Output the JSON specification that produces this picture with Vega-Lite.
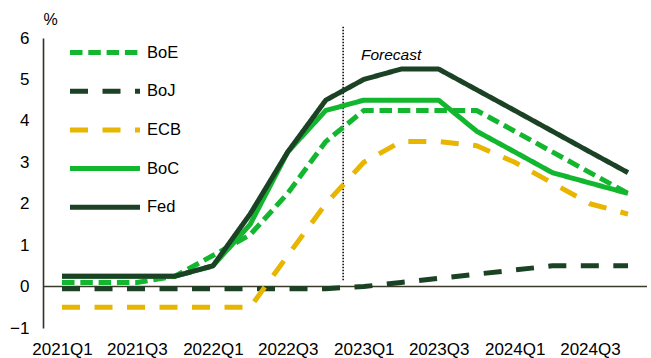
{
  "$schema": "https://vega.github.io/schema/vega-lite/v6.json",
  "width": 604,
  "height": 290,
  "autosize": {"type": "none"},
  "padding": {"left": 43, "top": 38, "right": 4, "bottom": 30},
  "background": "white",
  "config": {
    "view": {"stroke": null},
    "font": "Liberation Sans",
    "legend": {
      "orient": "none",
      "legendX": 49.5,
      "legendY": 2,
      "title": null,
      "symbolType": "M-3.5,0H3.5",
      "symbolSize": 400,
      "symbolStrokeWidth": 5,
      "labelFontSize": 16.5,
      "labelColor": "black",
      "labelOffset": 29.5,
      "rowPadding": 15.7
    }
  },
  "datasets": {
    "rates": [
      {"bank": "BoE", "quarter": "2021-01-01", "rate": 0.1},
      {"bank": "BoE", "quarter": "2021-04-01", "rate": 0.1},
      {"bank": "BoE", "quarter": "2021-07-01", "rate": 0.1},
      {"bank": "BoE", "quarter": "2021-10-01", "rate": 0.25},
      {"bank": "BoE", "quarter": "2022-01-01", "rate": 0.75},
      {"bank": "BoE", "quarter": "2022-04-01", "rate": 1.25},
      {"bank": "BoE", "quarter": "2022-07-01", "rate": 2.25},
      {"bank": "BoE", "quarter": "2022-10-01", "rate": 3.5},
      {"bank": "BoE", "quarter": "2023-01-01", "rate": 4.25},
      {"bank": "BoE", "quarter": "2023-04-01", "rate": 4.25},
      {"bank": "BoE", "quarter": "2023-07-01", "rate": 4.25},
      {"bank": "BoE", "quarter": "2023-10-01", "rate": 4.25},
      {"bank": "BoE", "quarter": "2024-01-01", "rate": 3.75},
      {"bank": "BoE", "quarter": "2024-04-01", "rate": 3.25},
      {"bank": "BoE", "quarter": "2024-07-01", "rate": 2.75},
      {"bank": "BoE", "quarter": "2024-10-01", "rate": 2.25},
      {"bank": "BoJ", "quarter": "2021-01-01", "rate": -0.05},
      {"bank": "BoJ", "quarter": "2021-04-01", "rate": -0.05},
      {"bank": "BoJ", "quarter": "2021-07-01", "rate": -0.05},
      {"bank": "BoJ", "quarter": "2021-10-01", "rate": -0.05},
      {"bank": "BoJ", "quarter": "2022-01-01", "rate": -0.05},
      {"bank": "BoJ", "quarter": "2022-04-01", "rate": -0.05},
      {"bank": "BoJ", "quarter": "2022-07-01", "rate": -0.05},
      {"bank": "BoJ", "quarter": "2022-10-01", "rate": -0.05},
      {"bank": "BoJ", "quarter": "2023-01-01", "rate": 0.0},
      {"bank": "BoJ", "quarter": "2023-04-01", "rate": 0.1},
      {"bank": "BoJ", "quarter": "2023-07-01", "rate": 0.2},
      {"bank": "BoJ", "quarter": "2023-10-01", "rate": 0.3},
      {"bank": "BoJ", "quarter": "2024-01-01", "rate": 0.4},
      {"bank": "BoJ", "quarter": "2024-04-01", "rate": 0.5},
      {"bank": "BoJ", "quarter": "2024-07-01", "rate": 0.5},
      {"bank": "BoJ", "quarter": "2024-10-01", "rate": 0.5},
      {"bank": "ECB", "quarter": "2021-01-01", "rate": -0.5},
      {"bank": "ECB", "quarter": "2021-04-01", "rate": -0.5},
      {"bank": "ECB", "quarter": "2021-07-01", "rate": -0.5},
      {"bank": "ECB", "quarter": "2021-10-01", "rate": -0.5},
      {"bank": "ECB", "quarter": "2022-01-01", "rate": -0.5},
      {"bank": "ECB", "quarter": "2022-04-01", "rate": -0.5},
      {"bank": "ECB", "quarter": "2022-07-01", "rate": 0.75},
      {"bank": "ECB", "quarter": "2022-10-01", "rate": 2.0},
      {"bank": "ECB", "quarter": "2023-01-01", "rate": 3.0},
      {"bank": "ECB", "quarter": "2023-04-01", "rate": 3.5},
      {"bank": "ECB", "quarter": "2023-07-01", "rate": 3.5},
      {"bank": "ECB", "quarter": "2023-10-01", "rate": 3.4},
      {"bank": "ECB", "quarter": "2024-01-01", "rate": 3.0},
      {"bank": "ECB", "quarter": "2024-04-01", "rate": 2.5},
      {"bank": "ECB", "quarter": "2024-07-01", "rate": 2.0},
      {"bank": "ECB", "quarter": "2024-10-01", "rate": 1.75},
      {"bank": "BoC", "quarter": "2021-01-01", "rate": 0.25},
      {"bank": "BoC", "quarter": "2021-04-01", "rate": 0.25},
      {"bank": "BoC", "quarter": "2021-07-01", "rate": 0.25},
      {"bank": "BoC", "quarter": "2021-10-01", "rate": 0.25},
      {"bank": "BoC", "quarter": "2022-01-01", "rate": 0.5},
      {"bank": "BoC", "quarter": "2022-04-01", "rate": 1.5},
      {"bank": "BoC", "quarter": "2022-07-01", "rate": 3.25},
      {"bank": "BoC", "quarter": "2022-10-01", "rate": 4.25},
      {"bank": "BoC", "quarter": "2023-01-01", "rate": 4.5},
      {"bank": "BoC", "quarter": "2023-04-01", "rate": 4.5},
      {"bank": "BoC", "quarter": "2023-07-01", "rate": 4.5},
      {"bank": "BoC", "quarter": "2023-10-01", "rate": 3.75},
      {"bank": "BoC", "quarter": "2024-01-01", "rate": 3.25},
      {"bank": "BoC", "quarter": "2024-04-01", "rate": 2.75},
      {"bank": "BoC", "quarter": "2024-07-01", "rate": 2.5},
      {"bank": "BoC", "quarter": "2024-10-01", "rate": 2.25},
      {"bank": "Fed", "quarter": "2021-01-01", "rate": 0.25},
      {"bank": "Fed", "quarter": "2021-04-01", "rate": 0.25},
      {"bank": "Fed", "quarter": "2021-07-01", "rate": 0.25},
      {"bank": "Fed", "quarter": "2021-10-01", "rate": 0.25},
      {"bank": "Fed", "quarter": "2022-01-01", "rate": 0.5},
      {"bank": "Fed", "quarter": "2022-04-01", "rate": 1.75},
      {"bank": "Fed", "quarter": "2022-07-01", "rate": 3.25},
      {"bank": "Fed", "quarter": "2022-10-01", "rate": 4.5},
      {"bank": "Fed", "quarter": "2023-01-01", "rate": 5.0},
      {"bank": "Fed", "quarter": "2023-04-01", "rate": 5.25},
      {"bank": "Fed", "quarter": "2023-07-01", "rate": 5.25},
      {"bank": "Fed", "quarter": "2023-10-01", "rate": 4.75},
      {"bank": "Fed", "quarter": "2024-01-01", "rate": 4.25},
      {"bank": "Fed", "quarter": "2024-04-01", "rate": 3.75},
      {"bank": "Fed", "quarter": "2024-07-01", "rate": 3.25},
      {"bank": "Fed", "quarter": "2024-10-01", "rate": 2.75}
    ]
  },
  "layer": [
    {
      "data": {"values": [{"y": 0}]},
      "mark": {"type": "rule", "color": "#3a3a2c", "strokeWidth": 1.6},
      "encoding": {"y": {"field": "y", "type": "quantitative"}}
    },
    {
      "data": {"values": [{"date": "2022-11-12", "top": 6.28, "bottom": 0.15}]},
      "mark": {"type": "rule", "color": "black", "strokeWidth": 1.5, "strokeDash": [1.5, 1.5]},
      "encoding": {
        "x": {"field": "date", "type": "temporal"},
        "y": {"field": "bottom", "type": "quantitative"},
        "y2": {"field": "top"}
      }
    },
    {
      "data": {"values": [{"date": "2022-12-25", "y": 5.48, "label": "Forecast"}]},
      "mark": {"type": "text", "align": "left", "baseline": "alphabetic", "fontStyle": "italic", "fontSize": 15.5, "color": "black"},
      "encoding": {
        "x": {"field": "date", "type": "temporal"},
        "y": {"field": "y", "type": "quantitative"},
        "text": {"field": "label"}
      }
    },
    {
      "data": {"name": "rates"},
      "mark": {"type": "line", "strokeWidth": 5, "strokeJoin": "round"},
      "encoding": {
        "x": {
          "field": "quarter",
          "type": "temporal",
          "scale": {
            "type": "utc",
            "domain": [
              {"year": 2020, "month": 11, "date": 16, "utc": true},
              {"year": 2024, "month": 11, "date": 16, "utc": true}
            ]
          },
          "axis": {
            "values": [
              {"year": 2021, "month": 1, "date": 1, "utc": true},
              {"year": 2021, "month": 7, "date": 1, "utc": true},
              {"year": 2022, "month": 1, "date": 1, "utc": true},
              {"year": 2022, "month": 7, "date": 1, "utc": true},
              {"year": 2023, "month": 1, "date": 1, "utc": true},
              {"year": 2023, "month": 7, "date": 1, "utc": true},
              {"year": 2024, "month": 1, "date": 1, "utc": true},
              {"year": 2024, "month": 7, "date": 1, "utc": true}
            ],
            "labelExpr": "utcFormat(datum.value, '%YQ%q')",
            "title": null,
            "domain": false,
            "ticks": false,
            "grid": false,
            "labelFontSize": 17,
            "labelColor": "black",
            "labelPadding": 13,
            "labelFlush": false,
            "labelOverlap": false
          }
        },
        "y": {
          "field": "rate",
          "type": "quantitative",
          "scale": {"domain": [-1, 6], "nice": false, "zero": false},
          "axis": {
            "values": [-1, 0, 1, 2, 3, 4, 5, 6],
            "title": "%",
            "titleAngle": 0,
            "titleAlign": "left",
            "titleBaseline": "middle",
            "titleX": 0,
            "titleY": -19,
            "titleFontSize": 16,
            "titleFontWeight": "normal",
            "titleColor": "black",
            "ticks": false,
            "grid": false,
            "domain": true,
            "domainColor": "#2f3324",
            "domainWidth": 1.6,
            "labelFontSize": 17,
            "labelColor": "black",
            "labelPadding": 14,
            "labelFlush": false,
            "labelOverlap": false
          }
        },
        "color": {
          "field": "bank",
          "type": "nominal",
          "sort": ["BoE", "BoJ", "ECB", "BoC", "Fed"],
          "scale": {
            "domain": ["BoE", "BoJ", "ECB", "BoC", "Fed"],
            "range": ["#12b62f", "#1b4224", "#e8b500", "#12b62f", "#1b4224"]
          }
        },
        "strokeDash": {
          "field": "bank",
          "type": "nominal",
          "sort": ["BoE", "BoJ", "ECB", "BoC", "Fed"],
          "scale": {
            "domain": ["BoE", "BoJ", "ECB", "BoC", "Fed"],
            "range": [[12.5, 5.8], [18, 14.5], [18, 14.5], [1, 0], [1, 0]]
          }
        }
      }
    }
  ]
}
